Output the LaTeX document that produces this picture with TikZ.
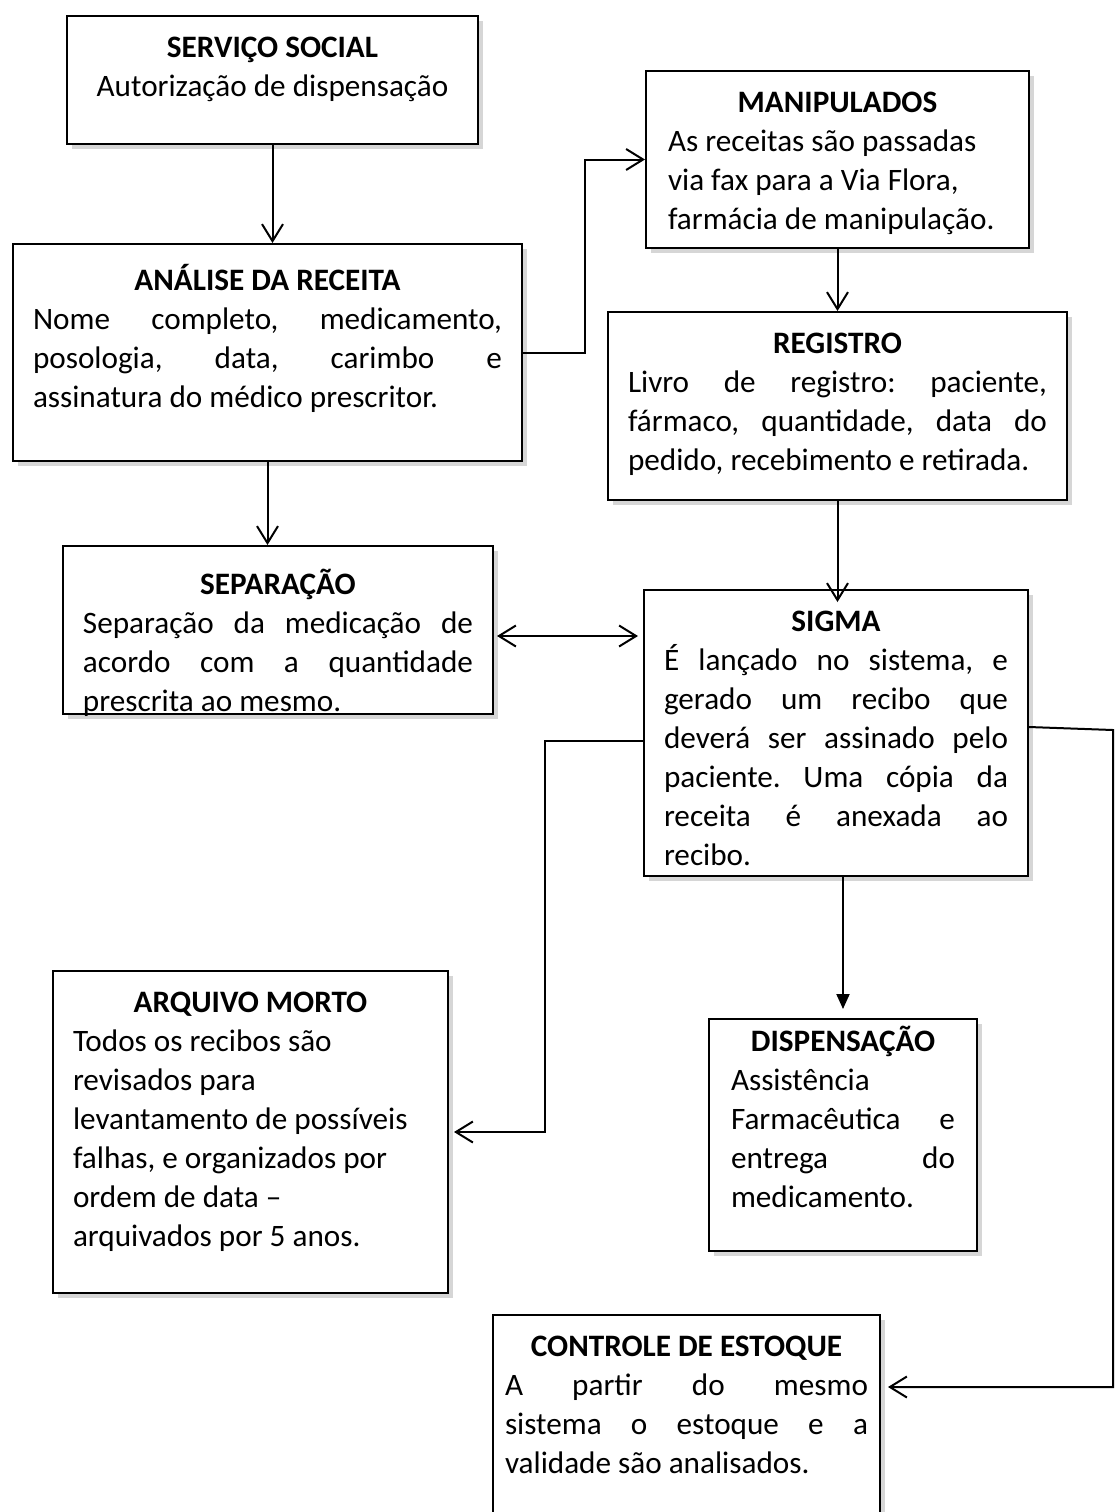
\documentclass[tikz,border=0pt]{standalone}
\usepackage{fontspec}
\setmainfont{Carlito}
\usetikzlibrary{arrows.meta,shadows}
\newcommand{\titulo}[1]{{\centering\textbf{#1}\par}}

\begin{document}
\begin{tikzpicture}[x=.5pt,y=-.5pt,
          every node/.style={font=\fontsize{15.6}{19.5}\selectfont\frenchspacing},
          >={Straight Barb[length=8.5pt,width=10.5pt]},
          caixa/.style={rectangle,draw,line width=1pt,fill=white,anchor=north west,
              align=justify,inner xsep=10pt,inner ysep=0pt,
              drop shadow={shadow xshift=2.5pt,shadow yshift=-2.5pt,fill=black!16,opacity=1}},
          topo/.style={execute at begin node={\rule{0pt}{#1}}},
          fundo/.style={execute at end node={\rule[-4pt]{0pt}{4pt}\endgraf\kern\dimexpr#1-4pt\relax}},
          seta/.style={->,line width=1pt}]
        \useasboundingbox (0,0) rectangle (1115,1512);

        \node[caixa,align=flush center,text width=185.5pt,topo=20.5pt,fundo=24pt] (servico) at (66,15)
          {\titulo{SERVIÇO SOCIAL}Autorização de dispensação};
        \node[caixa,text width=234.5pt,topo=23pt,fundo=27pt] (analise) at (12,243)
          {\titulo{ANÁLISE DA RECEITA}Nome completo, medicamento,\linebreak
           posologia, data, carimbo e\linebreak assinatura do médico prescritor.};
        \node[caixa,inner xsep=11pt,text width=169.5pt,topo=20.5pt,fundo=9.5pt] (manip) at (645,70)
          {\titulo{MANIPULADOS}As receitas são passadas\newline
           via fax para a Via Flora,\newline farmácia de manipulação.};
        \node[caixa,text width=209.5pt,topo=20.5pt,fundo=15pt] (registro) at (607,311)
          {\titulo{REGISTRO}Livro de registro: paciente,\linebreak
           fármaco, quantidade, data do\linebreak pedido, recebimento e retirada.};
        \node[caixa,text width=195pt,topo=24pt,fundo=1.5pt] (separacao) at (62,545)
          {\titulo{SEPARAÇÃO}Separação da medicação de\linebreak
           acordo com a quantidade\linebreak prescrita ao mesmo.};
        \node[caixa,text width=172pt,topo=20.5pt,fundo=5.5pt] (sigma) at (643,589)
          {\titulo{SIGMA}É lançado no sistema, e\linebreak gerado um recibo que\linebreak
           deverá ser assinado pelo\linebreak paciente. Uma cópia da\linebreak
           receita é anexada ao\linebreak recibo.};
        \node[caixa,text width=177.5pt,topo=20.5pt,fundo=23.5pt] (arquivo) at (52,970)
          {\titulo{ARQUIVO MORTO}Todos os recibos são\newline revisados para\newline
           levantamento de possíveis\newline falhas, e organizados por\newline
           ordem de data –\newline arquivados por 5 anos.};
        \node[caixa,inner xsep=11pt,text width=112pt,topo=16pt,fundo=22pt] (dispensa) at (708,1018)
          {\titulo{DISPENSAÇÃO}Assistência\newline Farmacêutica e\linebreak
           entrega do\linebreak medicamento.};
        \node[caixa,inner xsep=6pt,text width=181.5pt,topo=20.5pt,fundo=40pt] (estoque) at (492,1314)
          {\titulo{CONTROLE DE ESTOQUE}A partir do mesmo\linebreak
           sistema o estoque e a\linebreak validade são analisados.};

        \coordinate (dobra) at (1113,730);
        \coordinate (dobra2) at (1113,1387);

        \draw[seta] (servico.south) -- (servico.south |- analise.north);
        \draw[seta] (analise.south) -- (analise.south |- separacao.north);
        \draw[seta] (analise.east) -- ++(31pt,0) |- (manip.west);
        \draw[seta] (manip.south) -- (registro.north);
        \draw[seta] (registro.south) -- ([yshift=-6.5pt]registro.south |- sigma.north);
        \draw[seta,<->,shorten <=1.5pt,shorten >=2.5pt]
          ([yshift=-3pt]separacao.east) -- ([yshift=-3pt]separacao.east -| sigma.west);
        \draw[seta,shorten >=2.5pt] ([yshift=-4pt]sigma.west) -- ++(-49pt,0) |- (arquivo.east);
        \draw[line width=1pt,-{Triangle[length=7.5pt,width=6.5pt]},shorten >=4.5pt]
          (dispensa.north |- sigma.south) -- (dispensa.north);
        \draw[seta,shorten >=3.5pt] ([yshift=3pt]sigma.east) -- (dobra) -- (dobra2)
          -- (dobra2 -| estoque.east);
      \end{tikzpicture}
\end{document}
